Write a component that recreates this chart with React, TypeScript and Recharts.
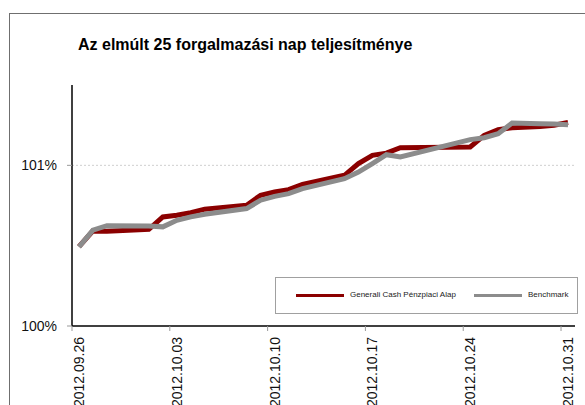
import React from 'react';
import { LineChart, Line, XAxis, YAxis, CartesianGrid } from 'recharts';

const FONT = "'Liberation Sans', Arial, Helvetica, sans-serif";

const title = 'Az elmúlt 25 forgalmazási nap teljesítménye';

const dates = [
  '2012.09.26', '2012.09.27', '2012.09.28',
  '2012.10.01', '2012.10.02', '2012.10.03', '2012.10.04', '2012.10.05',
  '2012.10.08', '2012.10.09', '2012.10.10', '2012.10.11', '2012.10.12',
  '2012.10.15', '2012.10.16', '2012.10.17', '2012.10.18', '2012.10.19',
  '2012.10.24', '2012.10.25', '2012.10.26', '2012.10.27',
  '2012.10.29', '2012.10.30', '2012.10.31',
];

const fundValues = [
  100.494, 100.592, 100.590,
  100.602, 100.679, 100.689, 100.705, 100.727,
  100.752, 100.814, 100.834, 100.849, 100.882,
  100.938, 101.011, 101.062, 101.076, 101.110,
  101.114, 101.186, 101.222, 101.234,
  101.242, 101.250, 101.267,
];

const benchmarkValues = [
  100.493, 100.596, 100.624,
  100.623, 100.617, 100.658, 100.679, 100.696,
  100.731, 100.783, 100.807, 100.824, 100.855,
  100.917, 100.958, 101.011, 101.066, 101.052,
  101.160, 101.172, 101.197, 101.263,
  101.259, 101.257, 101.253,
];

const xTickLabels = ['2012.09.26', '2012.10.03', '2012.10.10', '2012.10.17', '2012.10.24', '2012.10.31'];
const yTicks = [100, 101];
const yGridValues = [101];

const FUND_NAME = 'Generali Cash Pénzpiaci Alap';
const BENCH_NAME = 'Benchmark';
const FUND_COLOR = '#8B0000';
const BENCH_COLOR = '#8C8C8C';

const START = dates[0];
const dayIndex = (s: string) => {
  const [y, m, d] = s.split('.').map(Number);
  const [y0, m0, d0] = START.split('.').map(Number);
  return Math.round((Date.UTC(y, m - 1, d) - Date.UTC(y0, m0 - 1, d0)) / 86400000);
};

const data = dates.map((d, i) => ({
  x: dayIndex(d) + 0.5,
  fund: fundValues[i],
  bench: benchmarkValues[i],
}));

const xTicks = xTickLabels.map(dayIndex);
const labelFor = (v: number) => xTickLabels[xTicks.indexOf(v)] ?? '';

const XTick = (props: any) => {
  const { x, y, payload } = props;
  const tx = x + 12;
  const ty = y + 4;
  return (
    <text
      x={tx}
      y={ty}
      transform={`rotate(-90, ${tx}, ${ty})`}
      textAnchor="end"
      fontSize={14}
      fontFamily={FONT}
      fill="#111"
    >
      {labelFor(payload.value)}
    </text>
  );
};

export default function App() {
  return (
    <div
      style={{
        position: 'absolute',
        left: 0,
        top: 0,
        width: 585,
        height: 405,
        overflow: 'hidden',
        background: '#fff',
        fontFamily: FONT,
      }}
    >
      <div
        style={{
          position: 'absolute',
          left: 9,
          top: 13,
          width: 700,
          height: 500,
          border: '1px solid #6f6f6f',
        }}
      />
      <div
        style={{
          position: 'absolute',
          left: 78,
          top: 36,
          fontSize: 16,
          fontWeight: 'bold',
          color: '#000',
          whiteSpace: 'nowrap',
          lineHeight: '18px',
        }}
      >
        {title}
      </div>
      <div style={{ position: 'absolute', left: 0, top: 0 }}>
        <LineChart
          width={585}
          height={405}
          data={data}
          margin={{ top: 85, right: 10, left: 0, bottom: 0 }}
        >
          <CartesianGrid
            vertical={false}
            horizontalValues={yGridValues}
            stroke="#cfcfcf"
            strokeDasharray="2 2"
          />
          <XAxis
            type="number"
            dataKey="x"
            domain={[0, 36]}
            ticks={xTicks}
            interval={0}
            height={79}
            tickSize={5}
            axisLine={{ stroke: '#000', strokeWidth: 1.5 }}
            tickLine={{ stroke: '#999' }}
            tick={<XTick />}
          />
          <YAxis
            type="number"
            domain={[100, 101.5]}
            ticks={yTicks}
            interval={0}
            width={72}
            tickSize={5}
            tickMargin={10}
            axisLine={{ stroke: '#000', strokeWidth: 1.5 }}
            tickLine={{ stroke: '#999' }}
            tick={{ fontSize: 14, fontFamily: FONT, fill: '#111' }}
            tickFormatter={(v: number) => `${v}%`}
          />
          <Line
            type="linear"
            dataKey="fund"
            name={FUND_NAME}
            stroke={FUND_COLOR}
            strokeWidth={5}
            dot={false}
            activeDot={false}
            isAnimationActive={false}
          />
          <Line
            type="linear"
            dataKey="bench"
            name={BENCH_NAME}
            stroke={BENCH_COLOR}
            strokeWidth={5}
            dot={false}
            activeDot={false}
            isAnimationActive={false}
          />
        </LineChart>
      </div>
      <div
        style={{
          position: 'absolute',
          left: 275,
          top: 277,
          width: 301,
          height: 35,
          border: '1px solid #a0a0a0',
          background: '#fff',
          fontSize: 8,
          color: '#222',
        }}
      >
        {[
          { name: FUND_NAME, color: FUND_COLOR, lineLeft: 20, textLeft: 74 },
          { name: BENCH_NAME, color: BENCH_COLOR, lineLeft: 198, textLeft: 252 },
        ].map((it) => (
          <React.Fragment key={it.name}>
            <div
              style={{
                position: 'absolute',
                left: it.lineLeft,
                top: 16,
                width: 48,
                height: 3,
                background: it.color,
              }}
            />
            <div
              style={{
                position: 'absolute',
                left: it.textLeft,
                top: 12,
                lineHeight: '10px',
                whiteSpace: 'nowrap',
              }}
            >
              {it.name}
            </div>
          </React.Fragment>
        ))}
      </div>
    </div>
  );
}
